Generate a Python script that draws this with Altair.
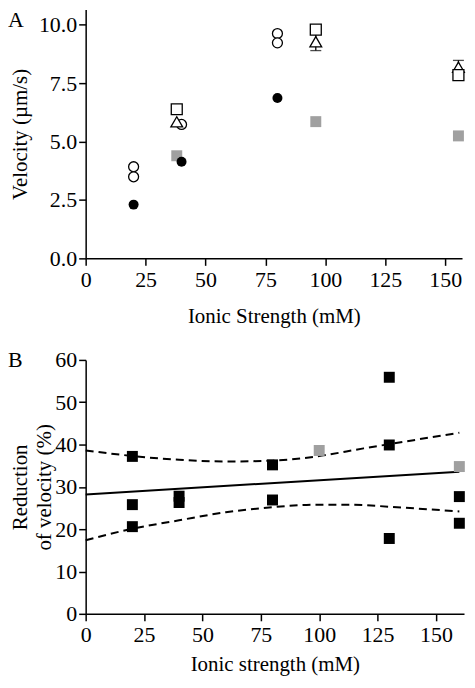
import altair as alt
import pandas as pd

FONT = "Liberation Serif"
GRAY = "#a0a0a0"

# ---------------- Panel A data ----------------
a_open_circle_x = [20, 20, 40, 80, 80]
a_open_circle_y = [3.92, 3.49, 5.73, 9.62, 9.22]
a_filled_circle_x = [20, 40, 80]
a_filled_circle_y = [2.30, 4.13, 6.86]
a_open_square_x = [38, 96, 155.5]
a_open_square_y = [6.38, 9.79, 7.84]
a_triangle_x = [38, 96, 155.5]
a_triangle_y = [5.84, 9.27, 8.18]
a_triangle_err = [0.0, 0.38, 0.29]
a_gray_square_x = [38, 96, 155.5]
a_gray_square_y = [4.39, 5.85, 5.24]
a_x_ticks = [0, 25, 50, 75, 100, 125, 150]
a_y_ticks = [0, 2.5, 5, 7.5, 10]

# ---------------- Panel B data ----------------
b_black_x = [20, 20, 20, 40, 40, 80, 80, 130, 130, 130, 160, 160]
b_black_y = [37.2, 25.8, 20.6, 27.8, 26.3, 35.2, 26.9, 55.9, 39.9, 17.8, 27.7, 21.4]
b_gray_x = [100, 160]
b_gray_y = [38.6, 34.8]
b_fit_x = [0, 160]
b_fit_y = [28.2, 33.6]
b_upper_x = [0, 20, 40, 60, 80, 99, 119, 130, 160]
b_upper_y = [38.6, 37.3, 36.4, 36.0, 36.2, 37.2, 39.1, 40.1, 42.8]
b_lower_x = [0, 20, 40, 60, 80, 100, 114, 130, 160]
b_lower_y = [17.4, 20.1, 22.1, 24.0, 25.2, 25.8, 25.8, 25.3, 24.2]
b_x_ticks = [0, 25, 50, 75, 100, 125, 150]
b_y_ticks = [0, 10, 20, 30, 40, 50, 60]

# ---------------- Panel A ----------------
a_w, a_h = 378, 250
a_xscale = alt.Scale(domain=[0, 157], nice=False, zero=False)
a_yscale = alt.Scale(domain=[0, 10.65], nice=False)
a_xaxis = alt.Axis(values=a_x_ticks, title="Ionic Strength (mM)", format="d", titlePadding=15)
a_yaxis = alt.Axis(values=a_y_ticks, title="Velocity (µm/s)", format=".1f", titlePadding=8)


def AX(f="x"):
    return alt.X(f + ":Q", scale=a_xscale, axis=a_xaxis)


def AY(f="y"):
    return alt.Y(f + ":Q", scale=a_yscale, axis=a_yaxis)


tri_df = pd.DataFrame({"x": a_triangle_x, "y": a_triangle_y, "e": a_triangle_err})
tri_df["lo"] = tri_df["y"] - tri_df["e"]
tri_df["hi"] = tri_df["y"] + tri_df["e"]
err_df = tri_df[tri_df["e"] > 0]

a_err = alt.Chart(err_df).mark_rule(color="black", strokeWidth=1.3).encode(
    x=AX(), y=AY("lo"), y2="hi:Q")
a_cap_hi = alt.Chart(err_df).mark_tick(color="black", thickness=1.3, size=11, orient="horizontal").encode(
    x=AX(), y=AY("hi"))
a_cap_lo = alt.Chart(err_df).mark_tick(color="black", thickness=1.3, size=11, orient="horizontal").encode(
    x=AX(), y=AY("lo"))

a_gray = alt.Chart(pd.DataFrame({"x": a_gray_square_x, "y": a_gray_square_y})).mark_point(
    shape="square", filled=True, color=GRAY, size=121, opacity=1).encode(x=AX(), y=AY())
a_fill_c = alt.Chart(pd.DataFrame({"x": a_filled_circle_x, "y": a_filled_circle_y})).mark_point(
    shape="circle", filled=True, color="black", size=100, opacity=1).encode(x=AX(), y=AY())
a_open_c = alt.Chart(pd.DataFrame({"x": a_open_circle_x, "y": a_open_circle_y})).mark_point(
    shape="circle", fill="white", stroke="black", strokeWidth=1.3, size=100, opacity=1,
    fillOpacity=1).encode(x=AX(), y=AY())
a_tri = alt.Chart(tri_df).mark_point(
    shape="triangle-up", fill="white", stroke="black", strokeWidth=1.3, size=140, opacity=1,
    fillOpacity=1).encode(x=AX(), y=AY())
a_sq = alt.Chart(pd.DataFrame({"x": a_open_square_x, "y": a_open_square_y})).mark_point(
    shape="square", fill="white", stroke="black", strokeWidth=1.3, size=121, opacity=1,
    fillOpacity=1).encode(x=AX(), y=AY())
a_label = alt.Chart(pd.DataFrame({"t": ["A"]})).mark_text(
    font=FONT, fontSize=22, align="left", baseline="middle", color="black").encode(
    text="t:N", x=alt.value(-78), y=alt.value(11))

panel_a = alt.layer(a_err, a_cap_hi, a_cap_lo, a_gray, a_fill_c, a_open_c,
                    a_tri, a_sq, a_label).properties(width=a_w, height=a_h)

# ---------------- Panel B ----------------
b_w, b_h = 380, 255
b_xscale = alt.Scale(domain=[0, 162], nice=False, zero=False)
b_yscale = alt.Scale(domain=[0, 60], nice=False)
b_xaxis = alt.Axis(values=b_x_ticks, title="Ionic strength (mM)", format="d", titlePadding=8)
b_yaxis = alt.Axis(values=b_y_ticks, title=["Reduction", "of velocity (%)"],
                   titleLineHeight=24, titlePadding=0)
bx = alt.X("x:Q", scale=b_xscale, axis=b_xaxis)
by = alt.Y("y:Q", scale=b_yscale, axis=b_yaxis)

b_upper = alt.Chart(pd.DataFrame({"x": b_upper_x, "y": b_upper_y})).mark_line(
    color="black", strokeWidth=2, strokeDash=[8, 5], interpolate="monotone").encode(x=bx, y=by)
b_lower = alt.Chart(pd.DataFrame({"x": b_lower_x, "y": b_lower_y})).mark_line(
    color="black", strokeWidth=2, strokeDash=[8, 5], interpolate="monotone").encode(x=bx, y=by)
b_fit = alt.Chart(pd.DataFrame({"x": b_fit_x, "y": b_fit_y})).mark_line(
    color="black", strokeWidth=2).encode(x=bx, y=by)
b_black = alt.Chart(pd.DataFrame({"x": b_black_x, "y": b_black_y})).mark_point(
    shape="square", filled=True, color="black", size=121, opacity=1).encode(x=bx, y=by)
b_gray = alt.Chart(pd.DataFrame({"x": b_gray_x, "y": b_gray_y})).mark_point(
    shape="square", filled=True, color=GRAY, size=121, opacity=1).encode(x=bx, y=by)
b_label = alt.Chart(pd.DataFrame({"t": ["B"]})).mark_text(
    font=FONT, fontSize=22, align="left", baseline="middle", color="black").encode(
    text="t:N", x=alt.value(-78), y=alt.value(0))

panel_b = alt.layer(b_upper, b_lower, b_fit, b_black, b_gray, b_label).properties(
    width=b_w, height=b_h)

chart = alt.vconcat(panel_a, panel_b, spacing=23).configure_view(stroke=None).configure_axis(
    grid=False, domainColor="black", domainWidth=1.5, tickColor="black", tickWidth=1.5,
    tickSize=7, labelFont=FONT, labelFontSize=22, labelColor="black", labelPadding=2,
    titleFont=FONT, titleFontSize=21, titleColor="black", titleFontWeight="normal",
    labelFlush=False, labelOverlap=False
).configure_axisX(labelPadding=4).properties(background="white", padding=0)

chart.save("out.html", embed_options={"renderer": "svg", "actions": False})
